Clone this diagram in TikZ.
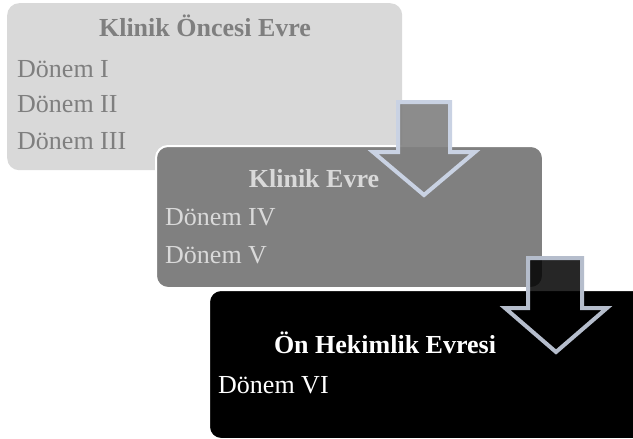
\documentclass[tikz,border=0pt]{standalone}
\usepackage{fontspec}
\setmainfont{Liberation Serif}
\usepackage{tikz}
\usetikzlibrary{calc}
\definecolor{paleGray}{HTML}{D9D9D9}
\definecolor{midGray}{HTML}{808080}
\definecolor{darkText}{HTML}{7F7F7F}
\definecolor{arrowRim}{HTML}{C9D2E3}
\definecolor{arrowRimDark}{HTML}{B5BDCC}
\tikzset{
    phase/.style={rounded corners=12pt, inner sep=0pt, anchor=north west},
    title/.style={font=\bfseries\fontsize{26}{30}\selectfont, anchor=base, inner sep=0pt},
    item/.style={font=\fontsize{26}{30}\selectfont, anchor=base west, inner sep=0pt},
    downarrow/.style={line width=4pt, line join=miter}
}
\begin{document}
\begin{tikzpicture}[x=1pt, y=-1pt]
        \clip (0,0) rectangle (633,439);
        \fill[white] (0,0) rectangle (633,439);

        % first phase
        \node[phase, fill=paleGray, minimum width=395pt, minimum height=167pt] (pre) at (7,3) {};
        \node[title, text=darkText] (preT) at (205,36) {Klinik Öncesi Evre};
        \node[item, text=darkText] (d1) at (17,77)  {Dönem I};
        \node[item, text=darkText] (d2) at (17,112) {Dönem II};
        \node[item, text=darkText] (d3) at (17,149) {Dönem III};

        % second phase
        \node[phase, fill=midGray, draw=white, line width=2pt, minimum width=387pt, minimum height=142pt] (clin) at (155,145) {};
        \node[title, text=paleGray] (clinT) at (314,187) {Klinik Evre};
        \node[item, text=paleGray] (d4) at (165,225) {Dönem IV};
        \node[item, text=paleGray] (d5) at (165,263) {Dönem V};

        \draw[downarrow, draw=arrowRim, fill=midGray, fill opacity=0.9]
            (398,102) -- (450,102) -- (450,152) -- (475,152) -- (424,195)
            -- (373,152) -- (398,152) -- cycle;

        % third phase
        \node[phase, fill=black, draw=white, line width=2pt, minimum width=440pt, minimum height=149pt] (hek) at (208,289) {};
        \node[title, text=white] (hekT) at (385,353) {Ön Hekimlik Evresi};
        \node[item, text=white] (d6) at (218,393) {Dönem VI};

        \draw[downarrow, draw=arrowRimDark, fill=black, fill opacity=0.85]
            (528,258) -- (582,258) -- (582,308) -- (607,308) -- (556,352)
            -- (505,308) -- (528,308) -- cycle;
    \end{tikzpicture}
\end{document}
